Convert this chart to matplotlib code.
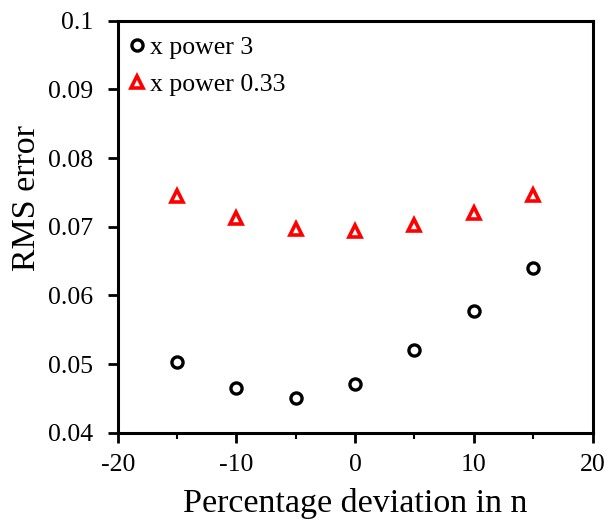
import matplotlib
matplotlib.use("Agg")
import matplotlib.pyplot as plt
from matplotlib.ticker import MultipleLocator

plt.rcParams['font.family'] = ['Liberation Serif', 'DejaVu Serif']

deviation = [-15, -10, -5, 0, 5, 10, 15]
rms_power3 = [0.0503, 0.0465, 0.0451, 0.0471, 0.0520, 0.0577, 0.0640]
rms_power033 = [0.0745, 0.0713, 0.0696, 0.0694, 0.0703, 0.0720, 0.0746]
label3 = "x power 3"
label033 = "x power 0.33"

fig = plt.figure(figsize=(6.04, 5.19), dpi=100)
ax = fig.add_axes([0.195, 0.1663, 0.786, 0.7937])

ax.plot(deviation, rms_power3, linestyle='none', marker='o', ms=8,
        mfc='white', mec='black', mew=2.4, label=label3)
ax.plot(deviation, rms_power033, linestyle='none', marker='^', ms=9,
        mfc='white', mec='#ff0000', mew=2.6, label=label033)

ax.set_xlim(-20, 20)
ax.set_ylim(0.04, 0.1)
ax.xaxis.set_minor_locator(MultipleLocator(5))
ax.set_yticks([0.04, 0.05, 0.06, 0.07, 0.08, 0.09, 0.1])
ax.set_yticklabels(['0.04', '0.05', '0.06', '0.07', '0.08', '0.09', '0.1'])
ax.set_xticks([-20, -10, 0, 10, 20])
ax.set_xticklabels(['-20', '-10', '0', '10', '20'])

for s in ax.spines.values():
    s.set_linewidth(2.2)
ax.tick_params(axis='both', which='major', direction='out', length=7, width=2,
               labelsize=18.5)
ax.tick_params(axis='y', which='major', pad=11)
ax.tick_params(axis='x', which='major', pad=8)
ax.tick_params(axis='x', which='minor', direction='out', length=4, width=1.5)

ax.set_xlabel("Percentage deviation in n", fontsize=24.5, labelpad=9)
ax.set_ylabel("RMS error", fontsize=24.5)
ax.yaxis.set_label_coords(-0.16, 0.57)

leg = ax.legend(loc='upper left', frameon=False, fontsize=18.5, handletextpad=0.35,
                handlelength=0.3, borderaxespad=0.2, labelspacing=0.55,
                bbox_to_anchor=(0.0, 1.0))

fig.savefig("out.png", dpi=100)
